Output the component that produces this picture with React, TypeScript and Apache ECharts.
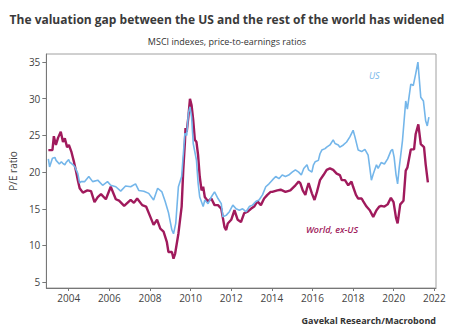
import React, { useEffect, useRef } from "react";
import * as echarts from "echarts";

const titleText = "The valuation gap between the US and the rest of the world has widened";
const subtitleText = "MSCI indexes, price-to-earnings ratios";
const sourceText = "Gavekal Research/Macrobond";
const yAxisName = "P/E ratio";
const usLabel = "US";
const worldLabel = "World, ex-US";

const xTickYears = [2004, 2006, 2008, 2010, 2012, 2014, 2016, 2018, 2020, 2022];
const yTickValues = [5, 10, 15, 20, 25, 30, 35];

const usYears = [
  2003.0, 2003.06, 2003.2, 2003.32, 2003.38, 2003.54, 2003.64, 2003.71, 2003.81, 2003.87,
  2004.0, 2004.06, 2004.13, 2004.29, 2004.37, 2004.45, 2004.54, 2004.6, 2004.78, 2004.99,
  2005.18, 2005.43, 2005.67, 2005.91, 2006.07, 2006.32, 2006.56, 2006.8, 2007.05, 2007.29,
  2007.45, 2007.7, 2007.94, 2008.18, 2008.38, 2008.59, 2008.75, 2008.91, 2009.08, 2009.16,
  2009.27, 2009.4, 2009.56, 2009.72, 2009.81, 2009.89, 2009.97, 2010.05, 2010.13, 2010.29,
  2010.37, 2010.45, 2010.62, 2010.7, 2010.86, 2011.02, 2011.18, 2011.35, 2011.51, 2011.59,
  2011.75, 2011.91, 2012.08, 2012.24, 2012.4, 2012.56, 2012.73, 2012.89, 2013.05, 2013.21,
  2013.37, 2013.54, 2013.7, 2013.86, 2014.02, 2014.19, 2014.35, 2014.51, 2014.67, 2014.83,
  2015.0, 2015.16, 2015.32, 2015.45, 2015.57, 2015.73, 2015.81, 2015.97, 2016.05, 2016.13,
  2016.29, 2016.37, 2016.46, 2016.62, 2016.7, 2016.86, 2017.02, 2017.11, 2017.27, 2017.35,
  2017.52, 2017.68, 2017.84, 2018.0, 2018.09, 2018.25, 2018.42, 2018.58, 2018.74, 2018.9,
  2019.0, 2019.15, 2019.23, 2019.38, 2019.54, 2019.7, 2019.86, 2019.94, 2020.02, 2020.11,
  2020.19, 2020.27, 2020.43, 2020.59, 2020.67, 2020.84, 2020.96, 2021.08, 2021.19, 2021.33,
  2021.46, 2021.57, 2021.65, 2021.73,
];
const usValues = [
  21.8, 20.7, 21.9, 22.0, 21.6, 21.1, 21.4, 21.2, 21.0, 21.3,
  21.7, 21.3, 21.2, 20.8, 20.3, 19.8, 18.5, 18.7, 18.7, 19.4,
  18.7, 18.9, 18.2, 18.7, 18.2, 18.0, 17.4, 18.1, 18.0, 18.4,
  17.5, 17.4, 17.1, 16.2, 17.8, 17.3, 16.0, 14.5, 12.1, 11.6,
  13.0, 18.0, 19.4, 25.3, 25.0, 28.0, 28.9, 27.5, 23.9, 21.6,
  18.5, 16.6, 15.3, 16.2, 15.7, 16.6, 17.3, 16.4, 15.7, 13.9,
  14.1, 14.6, 15.5, 15.0, 14.8, 15.0, 14.6, 15.3, 15.5, 16.0,
  16.2, 16.9, 18.0, 18.4, 18.9, 19.4, 19.1, 19.6, 19.4, 19.6,
  20.0, 20.3, 20.0, 19.6, 20.5, 21.0, 20.3, 20.0, 21.0, 21.4,
  21.6, 22.5, 23.0, 23.2, 23.4, 23.7, 24.4, 23.9, 23.7, 23.4,
  23.7, 24.1, 24.8, 25.7, 24.8, 23.0, 22.8, 23.1, 22.3, 18.9,
  19.8, 21.0, 20.5, 21.3, 21.1, 21.8, 22.9, 23.1, 22.0, 19.7,
  18.4, 20.6, 24.3, 29.7, 28.6, 32.0, 31.8, 33.4, 35.0, 30.2,
  29.7, 27.0, 26.3, 27.5,
];

const worldYears = [
  2003.0, 2003.2, 2003.27, 2003.37, 2003.48, 2003.61, 2003.72, 2003.81, 2003.92, 2004.01,
  2004.13, 2004.25, 2004.37, 2004.45, 2004.54, 2004.7, 2004.92, 2005.1, 2005.27, 2005.43,
  2005.59, 2005.83, 2006.07, 2006.32, 2006.48, 2006.73, 2006.89, 2007.05, 2007.21, 2007.37,
  2007.62, 2007.81, 2008.02, 2008.18, 2008.35, 2008.51, 2008.67, 2008.83, 2008.91, 2009.08,
  2009.16, 2009.24, 2009.4, 2009.56, 2009.64, 2009.72, 2009.75, 2009.81, 2009.89, 2009.97,
  2010.05, 2010.13, 2010.21, 2010.29, 2010.37, 2010.45, 2010.54, 2010.62, 2010.7, 2010.86,
  2011.02, 2011.18, 2011.35, 2011.51, 2011.67, 2011.75, 2011.83, 2012.0, 2012.16, 2012.32,
  2012.48, 2012.64, 2012.81, 2012.97, 2013.13, 2013.29, 2013.46, 2013.62, 2013.78, 2013.94,
  2014.02, 2014.27, 2014.43, 2014.67, 2014.91, 2015.16, 2015.32, 2015.4, 2015.52, 2015.65,
  2015.73, 2015.81, 2015.97, 2016.1, 2016.22, 2016.37, 2016.54, 2016.7, 2016.86, 2017.02,
  2017.19, 2017.35, 2017.44, 2017.6, 2017.76, 2017.92, 2018.0, 2018.14, 2018.25, 2018.42,
  2018.5, 2018.66, 2018.82, 2018.99, 2019.15, 2019.29, 2019.38, 2019.54, 2019.7, 2019.86,
  2019.99, 2020.11, 2020.19, 2020.32, 2020.48, 2020.59, 2020.67, 2020.84, 2021.0, 2021.08,
  2021.21, 2021.33, 2021.49, 2021.57, 2021.68,
];
const worldValues = [
  23.0, 23.0, 24.9, 23.7, 24.7, 25.5, 24.1, 24.6, 23.4, 23.7,
  22.8, 21.5, 20.0, 18.9, 17.8, 17.2, 17.5, 17.4, 15.9, 16.6,
  17.0, 16.3, 18.0, 16.3, 16.1, 15.4, 15.8, 16.2, 15.8, 16.4,
  15.5, 15.3, 13.9, 12.8, 13.5, 12.3, 11.9, 10.5, 9.1, 9.1,
  8.2, 8.9, 11.6, 15.3, 20.3, 24.0, 26.0, 25.5, 27.5, 30.0,
  29.1, 27.1, 24.4, 24.1, 22.3, 19.4, 17.5, 18.0, 16.6, 16.0,
  16.4, 15.5, 15.5, 15.0, 12.5, 12.1, 13.0, 13.5, 14.8, 13.5,
  13.2, 14.4, 14.6, 15.0, 15.3, 16.0, 15.5, 16.4, 16.9, 17.3,
  17.3, 17.5, 17.6, 17.3, 17.5, 18.2, 18.7, 18.5, 17.5, 16.9,
  17.8, 18.5, 17.1, 16.2, 17.3, 18.9, 19.6, 20.3, 20.5, 20.3,
  19.8, 19.6, 18.9, 18.9, 18.2, 18.7, 18.0, 16.9, 16.4, 16.4,
  16.0, 15.3, 14.8, 13.9, 14.8, 15.3, 15.4, 15.3, 15.6, 16.5,
  15.9, 13.8, 13.0, 15.6, 16.1, 20.2, 20.6, 23.1, 23.1, 25.2,
  26.5, 23.8, 23.4, 21.1, 18.6,
];

const US_COLOR = "#74b6ea";
const WORLD_COLOR = "#a01a5c";
const FONT = "'Open Sans', 'Noto Sans', sans-serif";

export default function App() {
  const ref = useRef<HTMLDivElement>(null);

  useEffect(() => {
    if (!ref.current) return;
    const chart = echarts.init(ref.current, undefined, { renderer: "svg" });
    const usData = usYears.map((y, i) => [y, usValues[i]]);
    const worldData = worldYears.map((y, i) => [y, worldValues[i]]);

    chart.setOption({
      animation: false,
      backgroundColor: "#ffffff",
      title: [
        {
          text: titleText,
          left: "center",
          top: 8,
          textStyle: { fontFamily: FONT, fontSize: 12, fontWeight: "bold", color: "#3a3a3a" },
        },
        {
          text: subtitleText,
          left: "center",
          top: 32,
          textStyle: { fontFamily: FONT, fontSize: 9, fontWeight: "normal", color: "#333" },
        },
        {
          text: sourceText,
          right: 13,
          top: 311,
          textStyle: { fontFamily: FONT, fontSize: 9, fontWeight: "bold", color: "#333" },
        },
      ],
      grid: {
        left: 43,
        right: 18,
        top: 54,
        bottom: 43,
        show: true,
        borderColor: "#a0a0a0",
        borderWidth: 1,
        backgroundColor: "transparent",
      },
      xAxis: {
        type: "value",
        min: 2002.9,
        max: 2022.08,
        splitLine: { show: false },
        axisLine: { show: true, lineStyle: { color: "#777", width: 1 } },
        axisTick: {
          show: true,
          length: 3,
          customValues: xTickYears,
          lineStyle: { color: "#777" },
        },
        axisLabel: {
          customValues: xTickYears,
          formatter: (v: number) => String(Math.round(v)),
          color: "#444",
          fontFamily: FONT,
          fontSize: 10,
          margin: 5,
        },
      },
      yAxis: {
        type: "value",
        min: 4.2,
        max: 36.1,
        name: yAxisName,
        nameLocation: "middle",
        nameGap: 26,
        nameTextStyle: { fontFamily: FONT, fontSize: 10, color: "#444" },
        splitLine: { show: false },
        axisLine: { show: true, lineStyle: { color: "#777", width: 1 } },
        axisTick: {
          show: true,
          length: 4,
          customValues: yTickValues,
          lineStyle: { color: "#777" },
        },
        axisLabel: {
          customValues: yTickValues,
          formatter: (v: number) => String(Math.round(v)),
          color: "#444",
          fontFamily: FONT,
          fontSize: 10,
          margin: 6,
        },
      },
      series: [
        {
          name: usLabel,
          type: "line",
          data: usData,
          showSymbol: false,
          symbol: "none",
          z: 3,
          lineStyle: { color: US_COLOR, width: 1.6 },
        },
        {
          name: worldLabel,
          type: "line",
          data: worldData,
          showSymbol: false,
          symbol: "none",
          z: 2,
          lineStyle: { color: WORLD_COLOR, width: 2.4 },
        },
      ],
      graphic: [
        {
          type: "text",
          left: 369,
          top: 71,
          style: {
            text: usLabel,
            fill: US_COLOR,
            font: `italic 9px ${FONT}`,
          },
        },
        {
          type: "text",
          left: 306,
          top: 225,
          style: {
            text: worldLabel,
            fill: WORLD_COLOR,
            font: `italic 600 9px ${FONT}`,
          },
        },
      ],
    });

    return () => chart.dispose();
  }, []);

  return <div ref={ref} style={{ width: 454, height: 331, position: "absolute", left: 0, top: 0 }} />;
}
